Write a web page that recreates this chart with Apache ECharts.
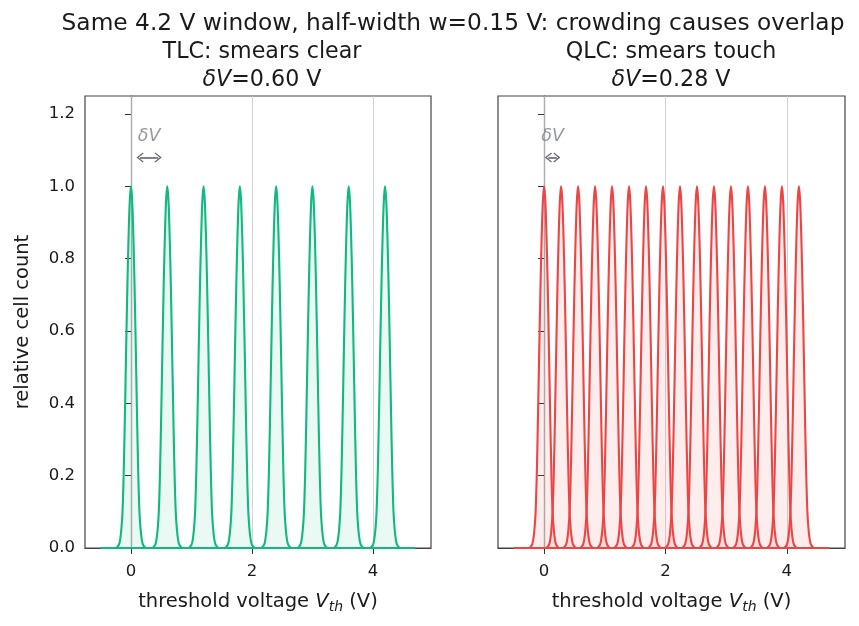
<!DOCTYPE html>
<html>
<head>
<meta charset="utf-8">
<script src="https://cdn.jsdelivr.net/npm/echarts@6/dist/echarts.min.js"></script>
<style>
  html, body { margin: 0; background: #fff; }
  #chart { width: 859px; height: 626px; }
</style>
</head>
<body>
<div id="chart"></div>
<script>
// peak centres of the two cell types (V)
const tlcCenters = [0, 0.6, 1.2, 1.8, 2.4, 3.0, 3.6, 4.2];
const qlcCenters = [0, 0.28, 0.56, 0.84, 1.12, 1.4, 1.68, 1.96, 2.24, 2.52, 2.8, 3.08, 3.36, 3.64, 3.92, 4.2];
const tlcStep = 0.6;
const qlcStep = 0.28;

// one-sided shape of a single smear
const profileOffset = [0, 0.02, 0.04, 0.06, 0.08, 0.10, 0.12, 0.14, 0.16, 0.18, 0.20, 0.24];
const profileHeight = [1.0, 0.96, 0.86, 0.72, 0.55, 0.37, 0.21, 0.10, 0.05, 0.022, 0.009, 0];

const vthRange = [-0.5, 4.7];
const yTicks = [0, 0.2, 0.4, 0.6, 0.8, 1.0, 1.2];
const xTicks = [0, 2, 4];

const GREEN = '#10b981';
const RED = '#ef4444';
const INK = '#1a1a1a';
const FONT = 'DejaVu Sans';

function peak(c) {
    const pts = [];
    for (let i = profileOffset.length - 1; i > 0; i--) pts.push([c - profileOffset[i], profileHeight[i]]);
    for (let i = 0; i < profileOffset.length; i++) pts.push([c + profileOffset[i], profileHeight[i]]);
    return pts;
}

const chevron = 'path://M0,0 L7,9 L5.6,10 L0,2.8 L-5.6,10 L-7,9 Z';

function panelSeries(idx, centers, step, color, fill) {
    const out = [];
    out.push({
        type: 'line', xAxisIndex: idx, yAxisIndex: idx,
        data: [[vthRange[0], 0], [vthRange[1], 0]],
        showSymbol: false, silent: true,
        lineStyle: { color: color, width: 2 },
        z: 3,
        markLine: {
            silent: true, symbol: 'none', label: { show: false },
            lineStyle: { color: '#c8c8c8', width: 0.8, type: 'solid' },
            data: xTicks.map(v => ({ xAxis: v })),
            z: 1
        }
    });
    centers.forEach(c => {
        out.push({
            type: 'line', xAxisIndex: idx, yAxisIndex: idx,
            data: peak(c), smooth: 0.3, showSymbol: false, silent: true,
            lineStyle: { color: color, width: 2.1 },
            areaStyle: { color: fill },
            z: 3
        });
    });
    // δV annotation
    const shrink = step * 0.25;
    out.push({
        type: 'scatter', xAxisIndex: idx, yAxisIndex: idx,
        data: [[step / 2, 1.138]], symbolSize: 0, silent: true,
        label: {
            show: true, position: 'inside', formatter: 'δV',
            color: '#7a7f87', fontFamily: FONT, fontStyle: 'italic', fontSize: 17.5
        },
        markLine: {
            silent: true,
            symbol: [chevron, chevron], symbolSize: [10, 7],
            label: { show: false },
            lineStyle: { color: '#5f6670', width: 1.6, type: 'solid' },
            data: [[{ coord: [shrink, 1.08] }, { coord: [step - shrink, 1.08] }]]
        },
        z: 5
    });
    return out;
}

function xAxis(idx) {
    return {
        type: 'value', gridIndex: idx, min: -0.76, max: 4.96,
        axisLine: { show: true, onZero: false, lineStyle: { color: '#444', width: 1.2 } },
        axisTick: { show: true, customValues: xTicks, length: 6, lineStyle: { color: '#333' } },
        axisLabel: { customValues: xTicks, color: INK, fontFamily: FONT, fontSize: 16.5, margin: 15 },
        splitLine: { show: false },
        name: 'threshold voltage {i|V}{s|th} (V)',
        nameLocation: 'middle', nameGap: 42,
        nameTextStyle: {
            color: INK, fontFamily: FONT, fontSize: 19.5,
            rich: {
                i: { fontFamily: FONT, fontStyle: 'italic', fontSize: 19.5, color: INK },
                s: { fontFamily: FONT, fontStyle: 'italic', fontSize: 14, color: INK, padding: [10, 0, 0, 0] }
            }
        }
    };
}

function yAxis(idx) {
    return {
        type: 'value', gridIndex: idx, min: 0, max: 1.25,
        axisLine: { show: true, lineStyle: { color: '#444', width: 1.2 } },
        axisTick: { show: true, customValues: yTicks, length: 6, lineStyle: { color: '#333' } },
        axisLabel: {
            show: idx === 0, customValues: yTicks, color: INK, fontFamily: FONT, fontSize: 16.5, margin: 10,
            formatter: v => v.toFixed(1)
        },
        splitLine: { show: false },
        name: idx === 0 ? 'relative cell count' : '',
        nameLocation: 'middle', nameGap: 52, nameRotate: 90,
        nameTextStyle: { color: INK, fontFamily: FONT, fontSize: 19.5 }
    };
}

const titleRich = {
    i: { fontFamily: FONT, fontStyle: 'italic', fontSize: 22.2, color: INK },
    n: { fontFamily: FONT, fontSize: 22.2, color: INK }
};

const option = {
    backgroundColor: '#fff',
    animation: false,
    title: [
        {
            text: 'Same 4.2 V window, half-width w=0.15 V: crowding causes overlap',
            left: 453, top: 12, textAlign: 'center', padding: 0,
            textStyle: { fontFamily: FONT, fontSize: 23.3, fontWeight: 'normal', color: INK }
        },
        {
            text: 'TLC: smears clear\n{i|δV}{n|=0.60 V}',
            left: 262, top: 38, textAlign: 'center', padding: 0,
            textStyle: { fontFamily: FONT, fontSize: 22.2, fontWeight: 'normal', color: INK, lineHeight: 28, rich: titleRich }
        },
        {
            text: 'QLC: smears touch\n{i|δV}{n|=0.28 V}',
            left: 671, top: 38, textAlign: 'center', padding: 0,
            textStyle: { fontFamily: FONT, fontSize: 22.2, fontWeight: 'normal', color: INK, lineHeight: 28, rich: titleRich }
        }
    ],
    grid: [
        { left: 85, top: 96, width: 346, height: 452, show: true, borderColor: '#444', borderWidth: 1.2, backgroundColor: 'transparent' },
        { left: 498, top: 96, width: 347, height: 452, show: true, borderColor: '#444', borderWidth: 1.2, backgroundColor: 'transparent' }
    ],
    xAxis: [xAxis(0), xAxis(1)],
    yAxis: [yAxis(0), yAxis(1)],
    series: [
        ...panelSeries(0, tlcCenters, tlcStep, GREEN, 'rgba(16,185,129,0.12)'),
        ...panelSeries(1, qlcCenters, qlcStep, RED, 'rgba(239,68,68,0.14)')
    ]
};

const chart = echarts.init(document.getElementById('chart'), null, { renderer: 'canvas' });
chart.setOption(option);
</script>
</body>
</html>
